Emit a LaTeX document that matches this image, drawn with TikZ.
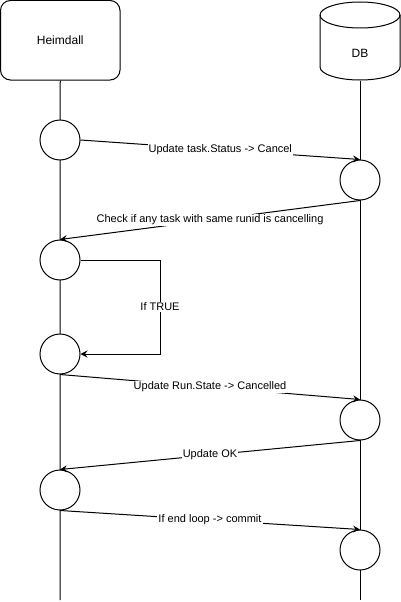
\documentclass[tikz,border=0pt]{standalone}
\usepackage{fontspec}
\setmainfont{Liberation Sans}
\usetikzlibrary{arrows.meta}
\begin{document}
\begin{tikzpicture}[x=1pt,y=1pt,line width=1pt,
  actor/.style={draw,rounded corners=10pt,minimum width=119.5pt,minimum height=79.5pt,font=\fontsize{12}{14}\selectfont,fill=white},
  act/.style={draw,circle,minimum size=40pt,inner sep=0pt,fill=white},
  life/.style={line width=1pt},
  arr/.style={-{Stealth[length=7pt,width=7pt,inset=2.5pt]}},
  lbl/.style={fill=white,inner sep=1pt,font=\fontsize{11}{13}\selectfont}]
\useasboundingbox (0,0) rectangle (401,-602);
% Heimdall actor
\node[actor] (heim) at (60.25,-40.25) {Heimdall};
% DB cylinder
\node[minimum width=80pt,minimum height=78pt,inner sep=0pt] (db) at (360,-41) {};
\draw[fill=white] (320,-15) -- (320,-67) arc[start angle=180,end angle=360,x radius=40pt,y radius=13pt] -- (400,-15) arc[start angle=0,end angle=180,x radius=40pt,y radius=13pt] -- cycle;
\draw (320,-15) arc[start angle=180,end angle=360,x radius=40pt,y radius=13pt];
\node[font=\fontsize{12}{14}\selectfont] (dblabel) at (360,-53) {DB};
% lifeline ends
\coordinate (hend) at (60,-600);
\coordinate (dend) at (360,-600);
\draw[life] (heim.south) -- (hend);
\draw[life] (db.south) -- (dend);
% activations
\node[act] (h1) at (60,-140) {};
\node[act] (h2) at (60,-260) {};
\node[act] (h3) at (60,-354) {};
\node[act] (h4) at (60,-490) {};
\node[act] (d1) at (360,-180) {};
\node[act] (d2) at (360,-420) {};
\node[act] (d3) at (360,-550) {};
% messages
\draw[arr] (h1.east) -- node[lbl] {Update task.Status -> Cancel} (d1.north);
\draw[arr] (d1.south) -- node[lbl] {Check if any task with same runid is cancelling} (h2.north);
\coordinate (loop) at (160,-260);
\draw[arr] (h2.east) -- (loop) |- node[lbl,pos=0.25] {If TRUE} (h3.east);
\draw[arr] (h3.south) -- node[lbl] {Update Run.State -> Cancelled} (d2.north);
\draw[arr] (d2.south) -- node[lbl] {Update OK} (h4.north);
\draw[arr] (h4.south) -- node[lbl] {If end loop -> commit} (d3.north);
\end{tikzpicture}
\end{document}
